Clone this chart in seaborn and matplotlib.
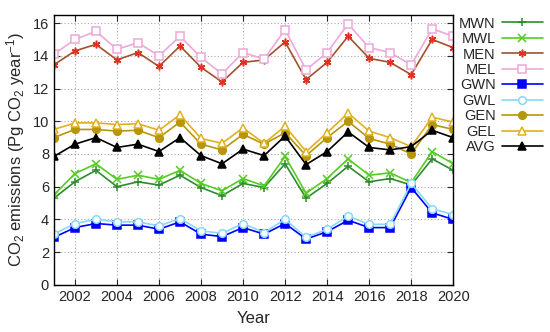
import pandas as pd
import matplotlib
matplotlib.use('Agg')
import matplotlib.pyplot as plt
import seaborn as sns

# Values
years = list(range(2001, 2021))

mwn = [5.3, 6.3, 7.0, 6.0, 6.3, 6.1, 6.7, 5.95, 5.45, 6.2,
       5.95, 7.4, 5.3, 6.2, 7.25, 6.3, 6.5, 6.1, 7.7, 7.0]
mwl = [5.5, 6.8, 7.4, 6.45, 6.7, 6.45, 7.0, 6.2, 5.75, 6.5,
       6.05, 7.85, 5.6, 6.5, 7.7, 6.7, 6.85, 6.25, 8.15, 7.4]
men = [13.45, 14.3, 14.7, 13.75, 14.2, 13.35, 14.6, 13.3, 12.4, 13.6,
       13.75, 14.85, 12.55, 13.6, 15.2, 13.85, 13.6, 12.85, 15.0, 14.5]
mel = [14.1, 15.0, 15.5, 14.4, 14.8, 14.0, 15.2, 13.9, 12.9, 14.2,
       13.8, 15.6, 13.15, 14.2, 15.95, 14.5, 14.2, 13.45, 15.65, 15.2]
gwn = [2.9, 3.5, 3.75, 3.65, 3.65, 3.4, 3.85, 3.1, 2.95, 3.5,
       3.1, 3.75, 2.8, 3.25, 3.95, 3.5, 3.5, 5.95, 4.4, 4.0]
gwl = [3.1, 3.75, 4.0, 3.85, 3.85, 3.6, 4.05, 3.3, 3.15, 3.75,
       3.2, 4.0, 2.9, 3.4, 4.2, 3.7, 3.7, 6.2, 4.65, 4.3]
gen = [9.0, 9.5, 9.5, 9.4, 9.45, 9.0, 9.95, 8.6, 8.25, 9.2,
       8.6, 9.3, 7.9, 9.0, 10.0, 8.95, 8.6, 8.0, 9.8, 9.5]
gel = [9.5, 9.9, 9.9, 9.8, 9.85, 9.45, 10.4, 8.95, 8.65, 9.6,
       8.65, 9.7, 8.15, 9.3, 10.5, 9.4, 9.0, 8.45, 10.25, 9.95]
avg = [7.85, 8.6, 9.0, 8.4, 8.6, 8.15, 9.0, 7.9, 7.4, 8.3,
       7.9, 9.1, 7.35, 8.15, 9.35, 8.4, 8.25, 8.45, 9.45, 9.0]

series_names = ['MWN', 'MWL', 'MEN', 'MEL', 'GWN', 'GWL', 'GEN', 'GEL', 'AVG']
series_values = [mwn, mwl, men, mel, gwn, gwl, gen, gel, avg]

# line colour, marker, marker face, marker edge
styles = {
    'MWN': ('#2e8b2e', '+', 'none', '#2e8b2e'),
    'MWL': ('#55cc22', 'x', 'none', '#55cc22'),
    'MEN': ('#a0522d', (6, 2, 0), 'none', '#e03020'),
    'MEL': ('#eea8d8', 's', 'white', '#eea8d8'),
    'GWN': ('#0000ff', 's', '#0000ff', '#0000ff'),
    'GWL': ('#88d8f8', 'o', 'white', '#88d8f8'),
    'GEN': ('#b8960b', 'o', '#b8960b', '#b8960b'),
    'GEL': ('#e0b020', '^', 'white', '#e0b020'),
    'AVG': ('#000000', '^', '#000000', '#000000'),
}

df = pd.DataFrame({'year': years})
for name, vals in zip(series_names, series_values):
    df[name] = vals

sns.set_style('ticks')
plt.rcParams['font.family'] = ['Liberation Sans', 'DejaVu Sans']
plt.rcParams['mathtext.fontset'] = 'custom'
plt.rcParams['mathtext.rm'] = 'Liberation Sans'
plt.rcParams['mathtext.it'] = 'Liberation Sans:italic'

fig = plt.figure(figsize=(5.5, 3.32), dpi=100)
ax = fig.add_axes([0.098, 0.142, 0.726, 0.813])

for name in series_names:
    color, marker, mfc, mec = styles[name]
    sns.lineplot(data=df, x='year', y=name, ax=ax, color=color, label=name,
                 marker=marker, markersize=5.5, markerfacecolor=mfc,
                 markeredgecolor=mec, markeredgewidth=1.1, linewidth=1.2)

ax.set_xlim(2001, 2020)
ax.set_ylim(0, 16.5)
ax.set_xticks(range(2002, 2021, 2))
ax.set_yticks(range(0, 17, 2))
ax.grid(True, linestyle=(0, (1, 2)), color='#aaaaaa', linewidth=0.8)
ax.tick_params(direction='in', top=True, right=True, labelsize=10.5, length=4)
for sp in ax.spines.values():
    sp.set_color('black')
    sp.set_linewidth(1.0)

ax.set_xlabel('Year', fontsize=12, labelpad=5)
ax.set_ylabel(r'CO$_{\mathrm{2}}$ emissions (Pg CO$_{\mathrm{2}}$ year$^{\mathrm{-1}}$)', fontsize=12)

ax.legend(loc='upper left', bbox_to_anchor=(0.835, 0.95), bbox_transform=fig.transFigure,
          frameon=False, markerfirst=False, fontsize=10.5, handlelength=2.8,
          labelspacing=0.1, handletextpad=0.4, borderpad=0, borderaxespad=0)

fig.savefig('out.png', dpi=100)
